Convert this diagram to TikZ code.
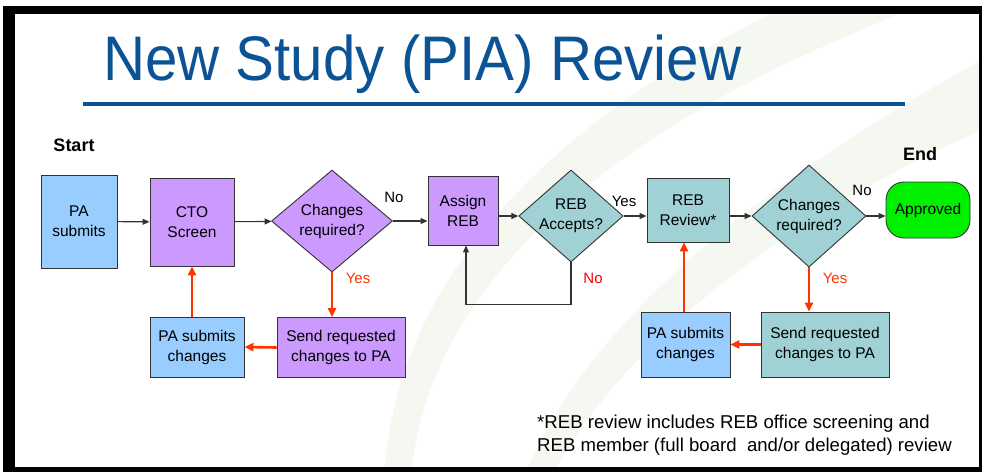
\documentclass[tikz,border=0pt]{standalone}
\usepackage{fontspec}
\setmainfont{Liberation Sans}
\newfontfamily\titlefont{Liberation Sans}[FakeStretch=0.925]
\usetikzlibrary{shapes.geometric, arrows.meta}
\definecolor{paleblue}{HTML}{99CCFF}
\definecolor{lilac}{HTML}{CC99FF}
\definecolor{seafoam}{HTML}{A0D2D5}
\definecolor{brightgreen}{HTML}{00F000}
\definecolor{titleblue}{HTML}{0B5394}
\definecolor{redarrow}{HTML}{FF3300}
\definecolor{leafgreen}{HTML}{F4F8F0}
\definecolor{edgegrey}{HTML}{333333}

\begin{document}
\begin{tikzpicture}[x=1pt, y=-1pt,
  box/.style={rectangle, draw=edgegrey, line width=0.9pt, align=center, inner sep=0pt, font=\fontsize{15.5}{20}\selectfont},
  decision/.style={diamond, draw=edgegrey, line width=0.9pt, align=center, inner sep=0pt, aspect=1.2, font=\fontsize{15.5}{20}\selectfont},
  flow/.style={draw=edgegrey, line width=1.1pt, -{Triangle[length=7pt,width=6pt]}},
  back/.style={draw=redarrow, line width=2.6pt, -{Triangle[length=9pt,width=8pt]}},
  tag/.style={font=\fontsize{15}{18}\selectfont, inner sep=0pt},
  heading/.style={font=\fontsize{18}{20}\selectfont\bfseries, inner sep=0pt}]
\useasboundingbox (0,0) rectangle (982,472);
\fill[white] (0,0) rectangle (982,472);

% Background leaf swooshes
\fill[leafgreen] (770,14) .. controls (560,120) and (400,270) .. (385,468) -- (412,468) .. controls (430,300) and (580,140) .. (900,14) -- cycle;
\fill[leafgreen] (982,60) .. controls (800,160) and (600,300) .. (528,468) -- (556,468) .. controls (640,320) and (820,200) .. (982,130) -- cycle;

% Frame
\fill[black] (3,6) rectangle (982,14);
\fill[black] (3,6) rectangle (15,472);
\fill[black] (3,467) rectangle (982,472);
\fill[black] (979,6) rectangle (982,472);

% Title
\node[anchor=base west, inner sep=0pt, text=titleblue, font=\titlefont\fontsize{63}{70}\selectfont] (title) at (103,80) {New Study (PIA) Review};
\draw[titleblue, line width=4pt] (83,104) -- (905,104);

% Top row
\node[heading] (start) at (74,145) {Start};
\node[box, fill=paleblue, minimum width=76pt, minimum height=93pt] (pasub) at (79,221.5) {PA\\submits};
\node[box, fill=lilac, minimum width=84pt, minimum height=88pt] (cto) at (192,222) {CTO\\Screen};
\node[decision, fill=lilac, minimum width=121pt, minimum height=102pt] (chg1) at (332,221) {Changes\\required?};
\node[box, fill=lilac, minimum width=70pt, minimum height=69pt] (assign) at (463,210.5) {Assign\\REB};
\node[decision, fill=seafoam, minimum width=104pt, minimum height=92pt] (accept) at (571,216) {REB\\Accepts?};
\node[box, fill=seafoam, minimum width=82pt, minimum height=64pt] (review) at (688,210) {REB\\Review*};
\node[decision, fill=seafoam, minimum width=114pt, minimum height=102pt] (chg2) at (809,216) {Changes\\required?};
\node[box, fill=brightgreen, rounded corners=18pt, minimum width=84pt, minimum height=56pt] (approved) at (928,210) {Approved};
\node[heading] (end) at (920,154) {End};

% Bottom row
\node[box, fill=paleblue, minimum width=94pt, minimum height=60pt] (pachg1) at (197,347) {PA submits\\changes};
\node[box, fill=lilac, minimum width=128pt, minimum height=60pt] (send1) at (341,347.5) {Send requested\\changes to PA};
\node[box, fill=paleblue, minimum width=89pt, minimum height=65pt] (pachg2) at (685.5,344.5) {PA submits\\changes};
\node[box, fill=seafoam, minimum width=128pt, minimum height=65pt] (send2) at (825,344.5) {Send requested\\changes to PA};

% Labels
\node[tag] (no1) at (394,197) {No};
\node[tag, text=redarrow] (yes1) at (358,278) {Yes};
\node[tag] (yes2) at (624,201) {Yes};
\node[tag, text=red] (no2) at (593,278) {No};
\node[tag] (no3) at (862,190) {No};
\node[tag, text=redarrow] (yes3) at (835,278) {Yes};

% Footnote
\node[anchor=north west, align=left, inner sep=0pt, font=\fontsize{18.6}{23}\selectfont] (note) at (537,415) {*REB review includes REB office screening and\\REB member (full board\ \ and/or delegated) review};

% Arrows
\draw[flow] (pasub) -- (cto);
\draw[flow] (cto) -- (chg1);
\draw[flow] (chg1.east) -- (chg1.east -| assign.west);
\draw[flow] (assign.east |- accept.west) -- (accept.west);
\draw[flow] (accept.east) -- (accept.east -| review.west);
\draw[flow] (review.east |- chg2.west) -- (chg2.west);
\draw[flow] (chg2.east) -- (chg2.east -| approved.west);
\draw[flow] (accept.south) -- ++(0,42) -| ([xshift=3pt]assign.south);

\draw[back] (chg1.south) -- (chg1.south |- send1.north);
\draw[back] (send1.west) -- (pachg1.east);
\draw[back] (pachg1.north -| cto.south) -- (cto.south);
\draw[back] (chg2.south) -- (chg2.south |- send2.north);
\draw[back] (send2.west) -- (pachg2.east);
\draw[back] ([xshift=-1.5pt]pachg2.north) -- ([xshift=-1.5pt]pachg2.north |- review.south);
\end{tikzpicture}
\end{document}
